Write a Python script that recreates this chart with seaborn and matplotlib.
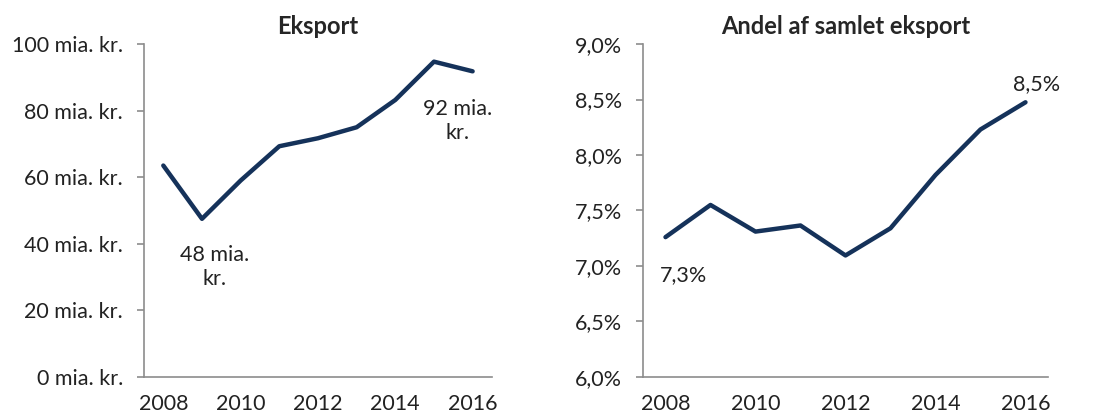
import matplotlib.pyplot as plt
import pandas as pd
import seaborn as sns

# Data
years = [2008, 2009, 2010, 2011, 2012, 2013, 2014, 2015, 2016]
eksport = [63.5, 47.5, 59.0, 69.3, 71.7, 75.0, 83.2, 94.7, 91.8]
andel = [7.26, 7.55, 7.31, 7.365, 7.095, 7.34, 7.82, 8.23, 8.475]
year_labels = ['2008', '', '2010', '', '2012', '', '2014', '', '2016']
eksport_ticks = [0, 20, 40, 60, 80, 100]
andel_ticks = [6.0, 6.5, 7.0, 7.5, 8.0, 8.5, 9.0]

df = pd.DataFrame({'pos': range(len(years)), 'Eksport': eksport, 'Andel': andel})

sns.set_style('white')
plt.rcParams['font.family'] = ['Lato', 'DejaVu Sans']

navy = '#15325a'
grey = '#8c8c8c'
txt = '#222222'

fig = plt.figure(figsize=(11.05, 4.16), dpi=100)
ax1 = fig.add_axes([0.1303, 0.0938, 0.3149, 0.8004])
ax2 = fig.add_axes([0.5819, 0.0938, 0.3665, 0.8004])

sns.lineplot(data=df, x='pos', y='Eksport', ax=ax1, color=navy, linewidth=3.2)
sns.lineplot(data=df, x='pos', y='Andel', ax=ax2, color=navy, linewidth=3.2)

ax1.set_ylim(0, 100)
ax1.set_yticks(eksport_ticks)
ax1.set_yticklabels([f'{t} mia. kr.' for t in eksport_ticks])
ax1.set_title('Eksport', fontsize=17, fontweight='bold', pad=7)

ax2.set_ylim(6.0, 9.0)
ax2.set_yticks(andel_ticks)
ax2.set_yticklabels([f'{t:.1f}%'.replace('.', ',') for t in andel_ticks])
ax2.set_title('Andel af samlet eksport', fontsize=17, fontweight='bold', pad=7)

for ax in (ax1, ax2):
    ax.set_xlim(-0.5, len(years) - 0.5)
    ax.set_xticks(range(len(years)))
    ax.set_xticklabels(year_labels)
    ax.set_xlabel('')
    ax.set_ylabel('')
    sns.despine(ax=ax)
    for s in ('left', 'bottom'):
        ax.spines[s].set_color(grey)
        ax.spines[s].set_linewidth(1.2)
    ax.tick_params(axis='y', which='both', left=True, length=5, width=1.2,
                   color=grey, labelsize=15.5, pad=10, labelcolor=txt)
    ax.tick_params(axis='x', bottom=False, labelsize=15.5, pad=8.5, labelcolor=txt)

# Labels on the lowest/first and last points
i_min = eksport.index(min(eksport))
ax1.annotate(f'{round(eksport[i_min])} mia.\nkr.', (i_min, eksport[i_min]),
             xytext=(9, -19), textcoords='offset points', ha='center', va='top',
             fontsize=15.5, color=txt, linespacing=1.25)
ax1.annotate(f'{round(eksport[-1])} mia.\nkr.', (len(years) - 1, eksport[-1]),
             xytext=(-11, -20), textcoords='offset points', ha='center', va='top',
             fontsize=15.5, color=txt, linespacing=1.25)
ax2.annotate(f'{andel[0]:.1f}%'.replace('.', ','), (0, andel[0]),
             xytext=(13, -20), textcoords='offset points', ha='center', va='top',
             fontsize=15.5, color=txt)
ax2.annotate(f'{andel[-1]:.1f}%'.replace('.', ','), (len(years) - 1, andel[-1]),
             xytext=(8, 6), textcoords='offset points', ha='center', va='bottom',
             fontsize=15.5, color=txt)

fig.savefig('out.png', dpi=100)
